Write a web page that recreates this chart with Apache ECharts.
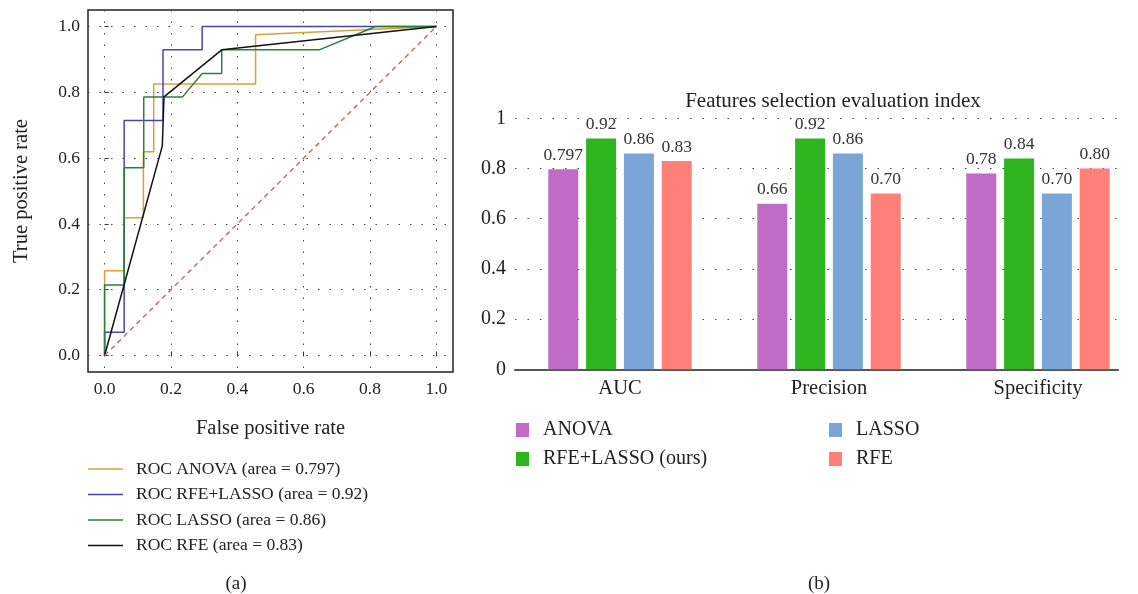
<!DOCTYPE html>
<html><head><meta charset="utf-8">
<script src="https://cdn.jsdelivr.net/npm/echarts@6/dist/echarts.min.js"></script>
<style>html,body{margin:0;padding:0;background:#fff}#c{width:1138px;height:594px}</style>
</head><body><div id="c"></div>
<script>
// ---- ROC data (a) ----
const rocTicks = [0, 0.2, 0.4, 0.6, 0.8, 1.0];
const rocNames = ['ROC ANOVA (area = 0.797)', 'ROC RFE+LASSO (area = 0.92)', 'ROC LASSO (area = 0.86)', 'ROC RFE (area = 0.83)'];
const rocAnova = [[0,0],[0,0.258],[0.059,0.258],[0.059,0.419],[0.117,0.419],[0.117,0.619],[0.148,0.619],[0.148,0.825],[0.455,0.825],[0.455,0.975],[1,1]];
const rocRfeLasso = [[0,0],[0,0.071],[0.059,0.071],[0.059,0.714],[0.176,0.714],[0.176,0.929],[0.294,0.929],[0.294,1],[1,1]];
const rocLasso = [[0,0],[0,0.214],[0.059,0.214],[0.059,0.571],[0.118,0.571],[0.118,0.786],[0.235,0.786],[0.294,0.857],[0.353,0.857],[0.353,0.929],[0.647,0.929],[0.817,1],[1,1]];
const rocRfe = [[0,0],[0.174,0.637],[0.179,0.786],[0.353,0.929],[1,1]];
const chanceLine = [[0,0],[1,1]];

// ---- Bar data (b) ----
const categories = ['AUC', 'Precision', 'Specificity'];
const barNames = ['ANOVA', 'RFE+LASSO (ours)', 'LASSO', 'RFE'];
const anovaVals = [0.797, 0.66, 0.78];
const rfeLassoVals = [0.92, 0.92, 0.84];
const lassoVals = [0.86, 0.86, 0.70];
const rfeVals = [0.83, 0.70, 0.80];
const anovaLabels = ['0.797', '0.66', '0.78'];
const rfeLassoLabels = ['0.92', '0.92', '0.84'];
const lassoLabels = ['0.86', '0.86', '0.70'];
const rfeLabels = ['0.83', '0.70', '0.80'];

const FF = 'Liberation Serif';
const TC = '#222';
const rocColors = ['#D6A33A', '#4646B0', '#2F7D3B', '#111111'];
const barColors = ['#C06BC6', '#2DB41E', '#7BA5D7', '#FF7F79'];

const chart = echarts.init(document.getElementById('c'), null, {renderer: 'canvas'});

function rocSeries(name, data, color) {
  return {type: 'line', name, data, xAxisIndex: 0, yAxisIndex: 0, symbol: 'none', showSymbol: false,
    lineStyle: {color, width: 1.5}, itemStyle: {color}, animation: false};
}
function barSeries(name, vals, labels, color) {
  return {type: 'bar', name, data: vals, xAxisIndex: 1, yAxisIndex: 1, barWidth: 30, barGap: '26%',
    itemStyle: {color}, animation: false,
    label: {show: true, position: 'top', distance: 5, fontFamily: FF, fontSize: 17.5, color: '#333',
      formatter: p => labels[p.dataIndex]}};
}

const option = {
  backgroundColor: '#fff',
  animation: false,
  title: [
    {text: 'Features selection evaluation index', left: 828, top: 86, textAlign: 'center',
      textStyle: {fontFamily: FF, fontSize: 21, fontWeight: 'normal', color: TC}},
    {text: '(a)', left: 231, top: 570, textAlign: 'center',
      textStyle: {fontFamily: FF, fontSize: 19, fontWeight: 'normal', color: TC}},
    {text: '(b)', left: 814, top: 570, textAlign: 'center',
      textStyle: {fontFamily: FF, fontSize: 19, fontWeight: 'normal', color: TC}}
  ],
  grid: [
    {left: 88, top: 10, width: 365, height: 362, show: true, borderColor: '#222', borderWidth: 1.5, outerBoundsMode: 'none', containLabel: false},
    {left: 515.5, top: 118.3, width: 627, height: 251, outerBoundsMode: 'none', containLabel: false},
    {left: 515, top: 118.3, width: 603, height: 251, outerBoundsMode: 'none', containLabel: false}
  ],
  xAxis: [
    {type: 'value', gridIndex: 0, min: -0.05, max: 1.05,
      axisLine: {show: false},
      axisTick: {show: true, inside: true, length: 4, customValues: rocTicks, lineStyle: {color: '#333'}},
      axisLabel: {customValues: rocTicks, formatter: v => Number(v).toFixed(1), fontFamily: FF, fontSize: 17.5, color: TC, margin: 8},
      splitLine: {show: true, lineStyle: {type: [1.5, 10], color: '#444', width: 1}},
      name: 'False positive rate', nameLocation: 'middle', nameGap: 46,
      nameTextStyle: {fontFamily: FF, fontSize: 20.5, color: TC}},
    {type: 'category', gridIndex: 1, data: categories,
      axisLine: {show: false}, axisTick: {show: false},
      axisLabel: {fontFamily: FF, fontSize: 20.5, color: TC, margin: 9}},
    {type: 'value', gridIndex: 2, min: 0, max: 1,
      axisLine: {show: true, lineStyle: {color: '#555', width: 2}},
      axisTick: {show: false}, axisLabel: {show: false}, splitLine: {show: false}}
  ],
  yAxis: [
    {type: 'value', gridIndex: 0, min: -0.05, max: 1.05,
      axisLine: {show: false},
      axisTick: {show: true, inside: true, length: 4, customValues: rocTicks, lineStyle: {color: '#333'}},
      axisLabel: {customValues: rocTicks, formatter: v => Number(v).toFixed(1), fontFamily: FF, fontSize: 17.5, color: TC, margin: 8},
      splitLine: {show: true, lineStyle: {type: [1.5, 10], color: '#444', width: 1}},
      name: 'True positive rate', nameLocation: 'middle', nameGap: 56,
      nameTextStyle: {fontFamily: FF, fontSize: 20.5, color: TC}},
    {type: 'value', gridIndex: 1, min: 0, max: 1, show: false},
    {type: 'value', gridIndex: 2, min: 0, max: 1, interval: 0.2,
      axisLine: {show: false}, axisTick: {show: false},
      axisLabel: {fontFamily: FF, fontSize: 20, color: TC, margin: 9},
      splitLine: {show: true, lineStyle: {type: [1.5, 11], color: '#444', width: 1}}}
  ],
  legend: [
    {data: rocNames, orient: 'vertical', left: 83, top: 455, icon: 'rect', itemWidth: 35, itemHeight: 1.5, itemGap: 7.5,
      textStyle: {fontFamily: FF, fontSize: 17.5, color: TC, padding: [0, 0, 0, 8]}},
    {data: barNames.slice(0, 2), orient: 'vertical', left: 511, top: 415, icon: 'rect', itemWidth: 13, itemHeight: 14, itemGap: 9,
      textStyle: {fontFamily: FF, fontSize: 20, color: TC, padding: [0, 0, 0, 9]}},
    {data: barNames.slice(2, 4), orient: 'vertical', left: 824, top: 415, icon: 'rect', itemWidth: 13, itemHeight: 14, itemGap: 9,
      textStyle: {fontFamily: FF, fontSize: 20, color: TC, padding: [0, 0, 0, 9]}}
  ],
  series: [
    rocSeries(rocNames[0], rocAnova, rocColors[0]),
    rocSeries(rocNames[1], rocRfeLasso, rocColors[1]),
    rocSeries(rocNames[2], rocLasso, rocColors[2]),
    rocSeries(rocNames[3], rocRfe, rocColors[3]),
    {type: 'line', name: 'chance', data: chanceLine, xAxisIndex: 0, yAxisIndex: 0, symbol: 'none',
      lineStyle: {color: '#D46A6A', width: 1.5, type: [5, 4]}, animation: false},
    barSeries(barNames[0], anovaVals, anovaLabels, barColors[0]),
    barSeries(barNames[1], rfeLassoVals, rfeLassoLabels, barColors[1]),
    barSeries(barNames[2], lassoVals, lassoLabels, barColors[2]),
    barSeries(barNames[3], rfeVals, rfeLabels, barColors[3])
  ]
};
chart.setOption(option);
</script>
</body></html>
